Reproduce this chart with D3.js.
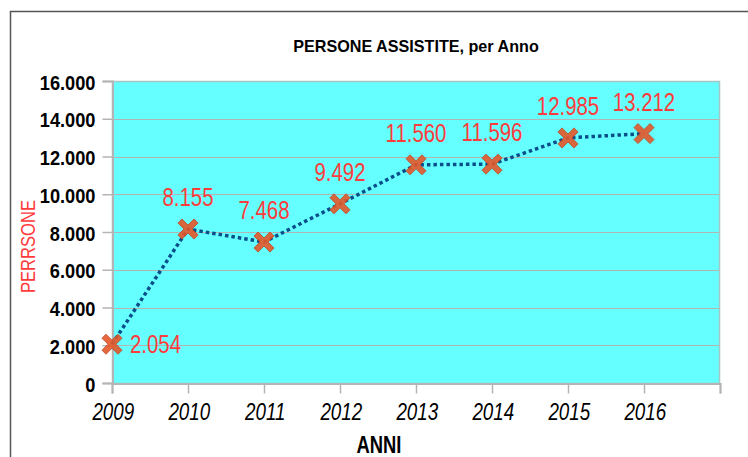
<!DOCTYPE html>
<html>
<head>
<meta charset="utf-8">
<script src="https://cdn.jsdelivr.net/npm/d3@7"></script>
<style>
  html, body { margin: 0; padding: 0; background: #fff; }
  svg { display: block; }
  text { font-family: "Liberation Sans", Arial, sans-serif; }
</style>
</head>
<body>
<svg id="chart" width="748" height="457"></svg>
<script>
// Persone assistite per anno
const years = [2009, 2010, 2011, 2012, 2013, 2014, 2015, 2016];
const persone = [2054, 8155, 7468, 9492, 11560, 11596, 12985, 13212];
const labels = ["2.054", "8.155", "7.468", "9.492", "11.560", "11.596", "12.985", "13.212"];
const yTicks = [0, 2000, 4000, 6000, 8000, 10000, 12000, 14000, 16000];

const svg = d3.select("#chart");
const plot = { left: 112, right: 720, top: 81, bottom: 383 };
const NARROW = 0.8; // horizontal squeeze for a narrow-face look

const x = d3.scaleLinear().domain([2009, 2017]).range([plot.left, plot.right]);
const y = d3.scaleLinear().domain([0, 16000]).range([plot.bottom, plot.top]);
const fmt = d => d3.format(",")(d).replace(/,/g, ".");

// text placed at (tx, ty) and squeezed horizontally
function narrowText(tx, ty, s, rot) {
  return svg.append("text")
    .attr("transform", `translate(${tx},${ty})${rot ? ` rotate(${rot})` : ""} scale(${s},1)`);
}

// outer frame (left and top edges)
svg.append("path")
  .attr("d", "M10.5,457 V11.5 H748")
  .attr("fill", "none").attr("stroke", "#555").attr("stroke-width", 1.5);

// plot background
svg.append("rect")
  .attr("x", plot.left).attr("y", plot.top)
  .attr("width", plot.right - plot.left).attr("height", plot.bottom - plot.top)
  .attr("fill", "#66ffff");

// horizontal gridlines
svg.append("g").selectAll("line").data(yTicks).join("line")
  .attr("x1", plot.left).attr("x2", plot.right)
  .attr("y1", d => Math.round(y(d)) + 0.5).attr("y2", d => Math.round(y(d)) + 0.5)
  .attr("stroke", "#b4b4b4").attr("stroke-width", 1);

// plot border
svg.append("rect")
  .attr("x", plot.left + 0.5).attr("y", plot.top + 0.5)
  .attr("width", plot.right - plot.left - 1).attr("height", plot.bottom - plot.top)
  .attr("fill", "none").attr("stroke", "#a8c4c4").attr("stroke-width", 1.5);

// y axis
const Y_SQ = 0.89;
const yAxis = svg.append("g")
  .attr("transform", `translate(${plot.left + 0.5},0)`)
  .call(d3.axisLeft(y).tickValues(yTicks).tickFormat(fmt).tickSize(10).tickPadding(10));
yAxis.select(".domain").attr("stroke", "#b4b4b4").attr("stroke-width", 2);
yAxis.selectAll(".tick line").attr("stroke", "#b4b4b4").attr("stroke-width", 1.5);
yAxis.selectAll(".tick text")
  .attr("x", -17 / Y_SQ).attr("dy", "0.4em")
  .attr("transform", `scale(${Y_SQ},1)`)
  .attr("font-size", 20.5).attr("font-weight", "bold").attr("fill", "#000");

// x axis
const xAxis = svg.append("g")
  .attr("transform", `translate(0,${plot.bottom + 0.5})`)
  .call(d3.axisBottom(x).tickValues(d3.range(2009, 2018)).tickFormat(d => d <= 2016 ? d : "")
    .tickSize(10).tickPadding(9));
xAxis.select(".domain").attr("stroke", "#b4b4b4").attr("stroke-width", 2);
xAxis.selectAll(".tick line").attr("stroke", "#b4b4b4").attr("stroke-width", 1.5);
xAxis.selectAll(".tick text")
  .attr("y", 36.5).attr("dy", 0).attr("x", 1)
  .attr("transform", `scale(${NARROW},1)`)
  .attr("font-size", 23.5).attr("font-style", "italic").attr("fill", "#000");

// title
narrowText(416, 52, 0.95)
  .attr("text-anchor", "middle")
  .attr("font-size", 17).attr("font-weight", "bold").attr("fill", "#000")
  .text("PERSONE ASSISTITE, per Anno");

// axis titles
narrowText(379, 453, NARROW)
  .attr("text-anchor", "middle")
  .attr("font-size", 23).attr("font-weight", "bold").attr("fill", "#000")
  .text("ANNI");

narrowText(35, 246.5, 0.79, -90)
  .attr("text-anchor", "middle")
  .attr("font-size", 21).attr("fill", "#ff3b3b")
  .text("PERRSONE");

// line
const pts = years.map((yr, i) => [x(yr), y(persone[i])]);
svg.append("path")
  .attr("d", d3.line()(pts))
  .attr("fill", "none").attr("stroke", "#0a4f8a")
  .attr("stroke-width", 3.5).attr("stroke-dasharray", "3.5,3");

// cross markers
const cross = "M-10,-6 L-6,-10 L0,-4 L6,-10 L10,-6 L4,0 L10,6 L6,10 L0,4 L-6,10 L-10,6 L-4,0 Z";
svg.append("g").selectAll("path").data(pts).join("path")
  .attr("transform", d => `translate(${d[0]},${d[1]})`)
  .attr("d", cross)
  .attr("fill", "#e5572a").attr("stroke", "#c44a26").attr("stroke-width", 1)
  .attr("opacity", 0.9);

// value labels
svg.append("g").selectAll("text").data(years).join("text")
  .attr("transform", (d, i) => i === 0
    ? `translate(${x(d) + 18},${y(persone[i]) + 9}) scale(${NARROW},1)`
    : `translate(${x(d)},${y(persone[i]) - 23}) scale(${NARROW},1)`)
  .attr("text-anchor", (d, i) => i === 0 ? "start" : "middle")
  .attr("font-size", 25.5).attr("fill", "#ff3b3b")
  .text((d, i) => labels[i]);
</script>
</body>
</html>
